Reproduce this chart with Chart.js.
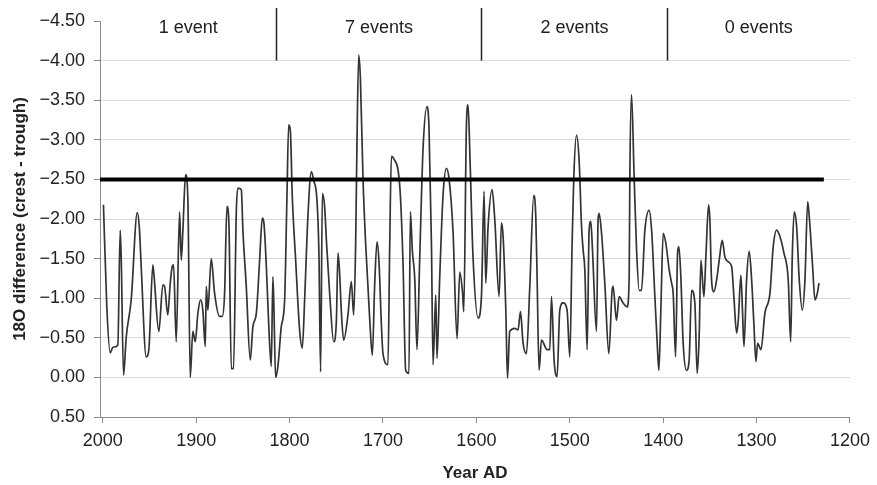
<!DOCTYPE html>
<html>
<head>
<meta charset="utf-8">
<script src="https://cdn.jsdelivr.net/npm/chart.js@4.4.0/dist/chart.umd.min.js"></script>
<style>
  html, body { margin: 0; padding: 0; background: #fff; }
  canvas { display: block; }
</style>
</head>
<body>
<canvas id="chartEvents" width="877" height="485"></canvas>
<script>
// years (AD) and crest - trough difference
var years = [
  1999.3, 1995.7, 1992.0, 1989.3, 1983.9, 1981.4, 1980.3, 1977.8, 1974.9, 1969.6,
  1963.1, 1960.7, 1958.9, 1953.5, 1950.7, 1946.4, 1945.4, 1940.0, 1935.7, 1933.9,
  1930.4, 1927.8, 1925.6, 1924.2, 1921.4, 1917.8, 1916.0, 1914.3, 1911.4, 1908.9,
  1906.4, 1903.6, 1901.0, 1898.2, 1895.3, 1892.9, 1890.3, 1889.2, 1887.5, 1883.9,
  1880.3, 1875.0, 1872.1, 1869.6, 1867.1, 1865.0, 1862.4, 1860.0, 1857.1, 1855.4,
  1851.7, 1850.0, 1846.4, 1842.1, 1839.3, 1835.6, 1832.1, 1829.2, 1827.5, 1824.9,
  1822.1, 1819.6, 1817.9, 1816.8, 1815.0, 1812.5, 1808.9, 1805.3, 1802.9, 1801.0,
  1799.2, 1797.1, 1793.5, 1789.3, 1786.4, 1783.9, 1780.4, 1776.7, 1774.3, 1770.7,
  1768.6, 1766.8, 1764.9, 1762.5, 1760.6, 1757.1, 1752.8, 1749.9, 1748.2, 1746.4,
  1744.6, 1742.1, 1737.5, 1733.9, 1731.4, 1729.3, 1727.9, 1726.0, 1724.2, 1721.4,
  1718.5, 1714.3, 1711.4, 1708.9, 1706.4, 1704.3, 1701.7, 1700.0, 1694.7, 1692.8,
  1691.0, 1687.5, 1683.9, 1681.4, 1678.6, 1675.7, 1672.2, 1670.7, 1668.5, 1666.0,
  1663.6, 1660.7, 1657.1, 1652.9, 1650.7, 1648.1, 1646.4, 1643.5, 1642.2, 1639.3,
  1635.7, 1632.1, 1629.3, 1625.0, 1620.7, 1617.8, 1614.9, 1613.5, 1610.7, 1608.9,
  1606.8, 1603.6, 1598.2, 1594.6, 1591.8, 1590.0, 1587.5, 1583.2, 1580.3, 1575.7,
  1573.2, 1571.4, 1568.5, 1566.7, 1564.3, 1558.9, 1555.4, 1552.8, 1550.0, 1546.4,
  1542.8, 1538.6, 1536.4, 1535.0, 1532.9, 1530.3, 1524.3, 1521.4, 1519.6, 1516.8,
  1513.6, 1510.7, 1507.2, 1502.9, 1500.0, 1497.5, 1495.7, 1492.8, 1490.0, 1487.4,
  1485.7, 1483.9, 1481.4, 1479.3, 1477.5, 1475.7, 1471.4, 1469.7, 1468.6, 1466.0,
  1462.5, 1458.2, 1454.7, 1453.6, 1450.0, 1447.2, 1442.9, 1438.6, 1436.4, 1435.7,
  1433.9, 1431.1, 1428.5, 1425.7, 1423.2, 1419.6, 1415.0, 1412.4, 1408.9, 1406.4,
  1404.6, 1402.5, 1400.0, 1397.1, 1393.6, 1391.0, 1389.3, 1386.7, 1384.6, 1383.2,
  1381.1, 1378.6, 1375.0, 1372.2, 1369.6, 1366.1, 1363.6, 1361.5, 1359.6, 1356.4,
  1354.3, 1351.4, 1350.0, 1348.2, 1345.7, 1342.8, 1340.0, 1336.8, 1333.9, 1330.4,
  1326.7, 1324.3, 1321.4, 1319.6, 1316.8, 1315.0, 1313.5, 1310.7, 1307.9, 1305.3,
  1302.9, 1300.7, 1298.9, 1295.3, 1291.1, 1285.7, 1282.2, 1278.5, 1275.0, 1270.7,
  1266.1, 1263.5, 1261.8, 1259.7, 1257.1, 1254.3, 1251.1, 1248.2, 1245.3, 1243.6,
  1240.0, 1237.5, 1235.0, 1233.2
];
var diffs = [
  -2.18, -0.89, -0.31, -0.38, -0.41, -1.86, -1.52, -0.03, -0.51, -0.98,
  -2.08, -1.86, -1.40, -0.26, -0.35, -1.42, -1.32, -0.58, -1.17, -1.15,
  -0.79, -1.19, -1.40, -1.42, -0.45, -2.09, -1.48, -1.84, -2.56, -2.24,
   0.00, -0.58, -0.45, -0.81, -0.98, -0.85, -0.39, -1.15, -0.85, -1.50,
  -1.06, -0.77, -0.77, -1.06, -2.16, -1.95, -0.11, -0.11, -2.07, -2.39,
  -2.37, -1.86, -1.15, -0.22, -0.64, -0.81, -1.48, -2.01, -1.95, -1.40,
  -0.60, -0.14, -1.27, -0.89,  0.00, -0.14, -0.64, -0.98, -2.24, -3.19,
  -3.12, -2.28, -1.48, -0.60, -0.37, -0.98, -2.03, -2.60, -2.49, -2.24,
  -1.57, -0.07, -2.32, -2.16, -1.73, -1.06, -0.45, -0.72, -1.57, -1.31,
  -0.83, -0.47, -0.79, -1.21, -0.79, -1.67, -2.93, -4.07, -3.78, -2.51,
  -1.67, -0.75, -0.28, -1.17, -1.71, -1.46, -0.66, -0.30, -0.16, -1.67,
  -2.79, -2.74, -2.62, -2.30, -1.46, -0.09, -0.05, -2.09, -1.59, -1.25,
  -0.35, -1.50, -2.89, -3.42, -3.14, -1.67, -0.16, -1.04, -0.24, -1.25,
  -2.30, -2.64, -2.51, -1.84, -0.49, -1.33, -1.08, -0.83, -3.17, -3.44,
  -2.74, -1.52, -0.75, -1.02, -2.35, -1.19, -1.90, -2.37, -1.99, -1.02,
  -1.95, -1.78, -0.85,  0.01, -0.58, -0.62, -0.60, -0.83, -0.43, -0.30,
  -1.15, -2.30, -2.03, -1.27, -0.09, -0.47, -0.35, -0.35, -1.02, -0.22,
  -0.01, -0.85, -0.94, -0.85, -0.26, -1.69, -2.53, -3.06, -2.74, -1.90,
  -1.61, -1.36, -0.35, -1.86, -1.97, -1.61, -0.58, -1.99, -2.07, -1.82,
  -1.19, -0.30, -1.10, -1.15, -0.72, -1.02, -0.94, -0.89, -1.27, -2.53,
  -3.57, -2.53, -1.61, -1.10, -1.10, -1.86, -2.11, -1.86, -1.02, -0.43,
  -0.09, -0.85, -1.82, -1.69, -1.36, -1.19, -1.06, -0.26, -1.57, -1.65,
  -1.27, -0.43, -0.09, -0.22, -1.10, -0.94, -0.05, -0.51, -1.48, -1.02,
  -1.52, -2.18, -1.99, -1.23, -1.08, -1.23, -1.48, -1.73, -1.52, -1.46,
  -1.40, -1.02, -0.56, -0.72, -1.29, -0.81, -0.39, -1.23, -1.59, -1.23,
  -0.68, -0.20, -0.43, -0.35, -0.81, -1.06, -1.65, -1.86, -1.78, -1.57,
  -1.23, -0.45, -1.52, -2.09, -1.90, -1.23, -0.85, -1.23, -2.22, -2.03,
  -1.40, -0.98, -1.06, -1.19
];

var threshold = -2.5;
var thresholdYears = [2003, 1228];
var xTicks = [2000, 1900, 1800, 1700, 1600, 1500, 1400, 1300, 1200];
var dividerYears = [1815, 1595, 1396];
var eventLabels = ['1 event', '7 events', '2 events', '0 events'];

var seriesPoints = years.map(function (y, i) { return { x: y, y: diffs[i] }; });
var thresholdPoints = thresholdYears.map(function (y) { return { x: y, y: threshold }; });

var eventsPlugin = {
    id: 'events',
    afterDatasetsDraw: function (chart) {
        var c = chart.ctx, xs = chart.scales.x, ys = chart.scales.y;
        var area = chart.chartArea;
        var bottom = ys.getPixelForValue(-4.0);
        var bounds = [area.left];
        c.save();
        c.strokeStyle = '#222';
        c.lineWidth = 1.5;
        dividerYears.forEach(function (yr) {
            var px = Math.round(xs.getPixelForValue(yr)) + 0.5;
            bounds.push(px);
            c.beginPath();
            c.moveTo(px, area.top - 13);
            c.lineTo(px, bottom);
            c.stroke();
        });
        bounds.push(area.right);
        c.fillStyle = '#222';
        c.font = '18px "Liberation Sans", Arial, sans-serif';
        c.textAlign = 'center';
        c.textBaseline = 'alphabetic';
        eventLabels.forEach(function (t, i) {
            c.fillText(t, (bounds[i] + bounds[i + 1]) / 2, area.top + 12);
        });
        c.restore();
    }
};

var ctx = document.getElementById('chartEvents');
var myChart = new Chart(ctx, {
    type: 'line',
    data: {
        datasets: [{
            data: thresholdPoints,
            borderColor: '#000',
            borderWidth: 4,
            pointRadius: 0,
            tension: 0
        }, {
            data: seriesPoints,
            borderColor: '#333',
            borderWidth: 1.7,
            pointRadius: 0,
            cubicInterpolationMode: 'monotone'
        }]
    },
    options: {
        responsive: false,
        animation: false,
        events: [],
        layout: { padding: { top: 21, right: 27, left: 0, bottom: 0 } },
        plugins: { legend: false, tooltip: { enabled: false } },
        scales: {
            x: {
                type: 'linear',
                reverse: true,
                min: 1200,
                max: 2003,
                afterBuildTicks: function (s) {
                    s.ticks = xTicks.map(function (v) { return { value: v }; });
                },
                afterFit: function (s) { s.height = 68; },
                grid: { drawOnChartArea: false, drawTicks: true, tickLength: 6, tickColor: '#8c8c8c' },
                border: { display: true, color: '#8c8c8c', width: 1 },
                ticks: {
                    padding: 7,
                    color: '#222',
                    maxRotation: 0,
                    font: { family: '"Liberation Sans", Arial, sans-serif', size: 18 },
                    callback: function (v) { return String(v); }
                },
                title: {
                    display: true,
                    text: 'Year AD',
                    color: '#222',
                    padding: { top: 0, bottom: 1 },
                    font: { family: '"Liberation Sans", Arial, sans-serif', size: 17, weight: 'bold' }
                }
            },
            y: {
                reverse: true,
                min: -4.5,
                max: 0.5,
                ticks: {
                    stepSize: 0.5,
                    padding: 9,
                    color: '#222',
                    font: { family: '"Liberation Sans", Arial, sans-serif', size: 18 },
                    callback: function (v) {
                        if (Math.abs(v) < 1e-9) return '0.00';
                        return v < 0 ? '\u2212' + Math.abs(v).toFixed(2) : v.toFixed(2);
                    }
                },
                afterFit: function (s) { s.width = 100; },
                grid: {
                    tickLength: 6,
                    tickColor: '#8c8c8c',
                    color: function (c) {
                        var v = c.tick ? c.tick.value : 0;
                        if (Math.abs(v + 4.5) < 1e-9 || Math.abs(v - 0.5) < 1e-9) return 'rgba(0,0,0,0)';
                        return '#d9d9d9';
                    }
                },
                border: { display: true, color: '#8c8c8c', width: 1 },
                title: {
                    display: true,
                    text: '18O difference (crest - trough)',
                    color: '#222',
                    padding: { top: 10, bottom: 0 },
                    font: { family: '"Liberation Sans", Arial, sans-serif', size: 17, weight: 'bold' }
                }
            }
        }
    },
    plugins: [eventsPlugin]
});
</script>
</body>
</html>
